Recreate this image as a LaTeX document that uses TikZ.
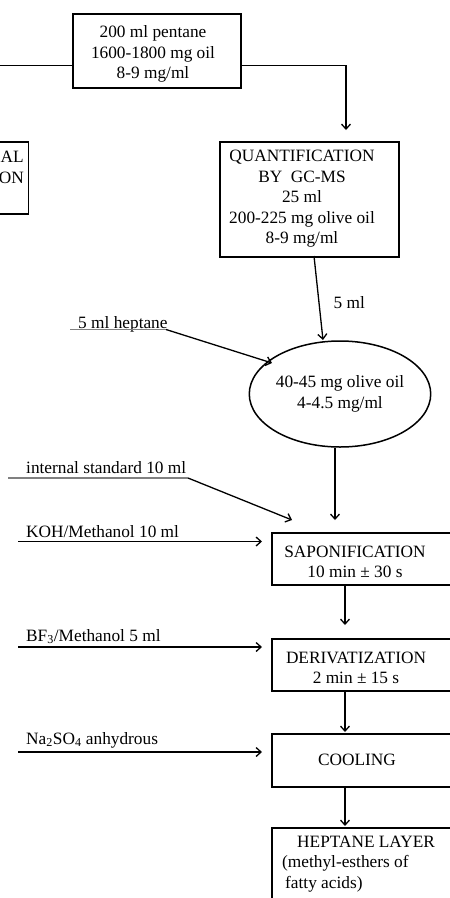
\documentclass[tikz,border=0pt]{standalone}
\usepackage{fontspec}
\setmainfont{Liberation Serif}
\usetikzlibrary{arrows.meta,shapes.geometric}
\begin{document}
\begin{tikzpicture}[x=1pt,y=-1pt,
  every node/.style={font=\fontsize{17.3}{20.5}\selectfont},
  box/.style={draw, line width=1.5pt, inner sep=0pt, anchor=north west},
  txt/.style={inner sep=0pt, align=center},
  lab/.style={inner sep=0pt, anchor=base west},
  arr/.style={line width=1.3pt, -{Straight Barb[length=5pt,width=9pt]}},
  feed/.style={line width=1.3pt},
  uline/.style={line width=1.2pt, black!50}]
\useasboundingbox (0,0) rectangle (450,898);
\clip (0,0) rectangle (450,898);

% boxes
\node[box, minimum width=168pt, minimum height=74pt] (top) at (72,13) {};
\node[box, anchor=north east, minimum width=60pt, minimum height=72pt] (left) at (29,141) {};
\node[box, minimum width=179pt, minimum height=115pt] (quant) at (219,141) {};
\node[draw, line width=1.5pt, ellipse, inner sep=0pt, minimum width=136pt, minimum height=106pt,
      font=\fontsize{17.3}{20.5}\selectfont, align=center] (ell) at (340,394) {40-45 mg olive oil\\4-4.5 mg/ml};
\node[box, minimum width=178.5pt, minimum height=52pt] (sap) at (271,532) {};
\node[box, minimum width=178.5pt, minimum height=52pt] (der) at (271,638) {};
\node[box, minimum width=178.5pt, minimum height=53pt] (cool) at (271,733) {};
\node[box, minimum width=178.5pt, minimum height=80pt] (hep) at (271,827) {};

% box texts
\node[txt] (toptxt) at (153,54) {200 ml pentane\\1600-1800 mg oil\\8-9 mg/ml};
\node[inner sep=0pt, anchor=base east, align=right] (lefttxt) at (24,183) {AL\\ON};
\node[txt] (quanttxt) at (302,199) {QUANTIFICATION\\BY~~GC-MS\\25 ml\\200-225 mg olive oil\\8-9 mg/ml};
\node[txt] (saptxt) at (355,562) {SAPONIFICATION\\10 min ± 30 s};
\node[txt] (dertxt) at (356,668) {DERIVATIZATION\\2 min ± 15 s};
\node[txt] (cooltxt) at (357,760) {COOLING};
\node[inner sep=0pt, align=left, anchor=west] (heptxt) at (282,864) {\hspace{15pt}HEPTANE LAYER\\(methyl-esthers of\\\hspace{3pt}fatty acids)};

% coordinates
\coordinate (lv) at (0,65.5);
\coordinate (qtip) at (346,130);
\coordinate (etip) at (323,340);
\coordinate (stip) at (335,520);
\coordinate (istip) at (292,520);
\coordinate (htip) at (272,363);

% top connections
\draw[feed] (top.west |- lv) -- (lv);
\draw[arr] (top.east |- lv) -| (qtip);

% quant -> ellipse
\draw[arr] (314,256) -- (etip) node[pos=0.55, right=14pt, inner sep=0pt] (fiveml) {5 ml};

% heptane feed
\node[lab] (heplab) at (78,328) {5 ml heptane};
\coordinate (hs0) at (70,329.5);
\coordinate (hs1) at (166,329.5);
\draw[uline] (hs0) -- (hs1);
\draw[arr] (hs1) -- (htip);

% ellipse -> saponification
\draw[arr] (ell.south -| stip) -- (stip);

% internal standard
\node[lab] (islab) at (26,473) {internal standard 10 ml};
\coordinate (is0) at (8,478);
\coordinate (is1) at (188,478);
\draw[uline] (is0) -- (is1);
\draw[arr] (is1) -- (istip);

% KOH
\node[lab] (kohlab) at (26,537) {KOH/Methanol 10 ml};
\coordinate (k0) at (18,541.5);
\coordinate (k1) at (262,541.5);
\draw[arr] (k0) -- (k1);

% BF3
\node[lab] (bflab) at (26,641) {BF\textsubscript{3}/Methanol 5 ml};
\coordinate (b0) at (18,647);
\coordinate (b1) at (262,647);
\draw[arr] (b0) -- (b1);

% Na2SO4
\node[lab] (nalab) at (26,744) {Na\textsubscript{2}SO\textsubscript{4} anhydrous};
\coordinate (n0) at (18,752);
\coordinate (n1) at (262,752);
\draw[arr] (n0) -- (n1);

% vertical chain
\coordinate (dtip) at (345,625);
\coordinate (ctip) at (345,732);
\coordinate (ptip) at (345,826);
\draw[arr] (sap.south -| dtip) -- (dtip);
\draw[arr] (der.south -| ctip) -- (ctip);
\draw[arr] (cool.south -| ptip) -- (ptip);
\end{tikzpicture}
\end{document}
